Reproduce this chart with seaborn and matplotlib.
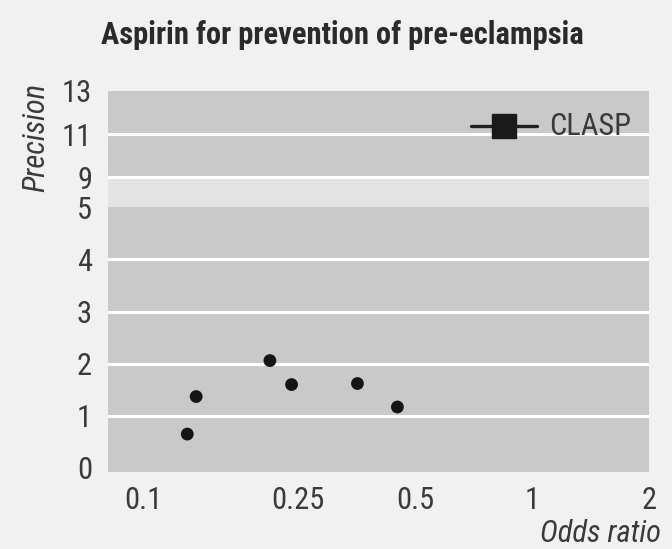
import numpy as np
import pandas as pd
import matplotlib
matplotlib.use("Agg")
import matplotlib.pyplot as plt
import seaborn as sns

# Small trials: odds ratio and precision (1/SE)
odds_ratio = [0.130, 0.137, 0.212, 0.241, 0.356, 0.451]
precision = [0.65, 1.37, 2.06, 1.60, 1.62, 1.17]

# Large trial with its confidence interval
clasp_label = "CLASP"
clasp_or = 0.848
clasp_ci = (0.698, 1.03)
clasp_precision = 11.37

x_ticks = [0.1, 0.25, 0.5, 1, 2]
x_tick_labels = ["0.1", "0.25", "0.5", "1", "2"]
y_ticks = [0, 1, 2, 3, 4, 5, 9, 11, 13]

sns.set_theme(style="white")
plt.rcParams["font.family"] = ["Roboto Condensed", "DejaVu Sans"]

BG = "#f1f1f1"
PANEL = "#c9c9c9"
BAND = "#e3e3e3"
TEXT = "#3a3a3a"

fig = plt.figure(figsize=(6.72, 5.49), dpi=100, facecolor=BG)
ax = fig.add_axes([108 / 672, 77 / 549, 541 / 672, 381 / 549])
ax.set_facecolor(PANEL)

# Broken precision axis: linear 0-5, compressed 5-9, reduced 9-13
y_in = np.array([-10, 0, 5, 9, 13, 30])
y_out = np.array([-10, 0, 5, 5.577, 7.23, 7.23 + 17 * 0.4135])


def fwd(v):
    return np.interp(v, y_in, y_out)


def inv(v):
    return np.interp(v, y_out, y_in)


ax.set_yscale("function", functions=(fwd, inv))
ax.set_xscale("log")
ax.set_xlim(0.0813, 1.98)
ax.set_ylim(-0.077, 13)

ax.axhspan(5, 9, color=BAND, zorder=0.5, lw=0)
for g in [1, 2, 3, 4, 9, 11]:
    ax.axhline(g, color="white", lw=2.2, zorder=1)

df = pd.DataFrame({"Odds ratio": odds_ratio, "Precision": precision})
sns.scatterplot(data=df, x="Odds ratio", y="Precision", ax=ax,
                color="#151515", s=85, edgecolor="none", zorder=3)

ax.plot(list(clasp_ci), [clasp_precision, clasp_precision],
        color="#202020", lw=2.4, zorder=3)
ax.plot([clasp_or], [clasp_precision], marker="s", ms=17.5,
        color="#1a1a1a", ls="none", zorder=4)
ax.text(1.105, clasp_precision, clasp_label, va="center", ha="left",
        fontsize=22, color=TEXT, zorder=4)

ax.set_xticks(x_ticks)
ax.set_xticklabels(x_tick_labels)
ax.xaxis.set_minor_locator(matplotlib.ticker.NullLocator())
ax.set_yticks(y_ticks)
ax.set_yticklabels([str(t) for t in y_ticks])
ax.tick_params(axis="both", length=0, labelsize=22, labelcolor=TEXT)
ax.tick_params(axis="y", pad=11.5)
ax.tick_params(axis="x", pad=10)
ax.set_xlabel("")
ax.set_ylabel("")
for s in ax.spines.values():
    s.set_visible(False)

fig.text(342 / 672, 1 - 44 / 549, "Aspirin for prevention of pre-eclampsia",
         ha="center", va="baseline", fontsize=22, fontweight="heavy", color="#2a2a2a")
fig.text(36 / 672, 1 - 137 / 549, "Precision", rotation=90, ha="center",
         va="center", fontsize=22, style="italic", color=TEXT)
fig.text(661 / 672, 1 - 542 / 549, "Odds ratio", ha="right", va="baseline",
         fontsize=22, style="italic", color=TEXT)

fig.savefig("out.png", dpi=100, facecolor=BG)
